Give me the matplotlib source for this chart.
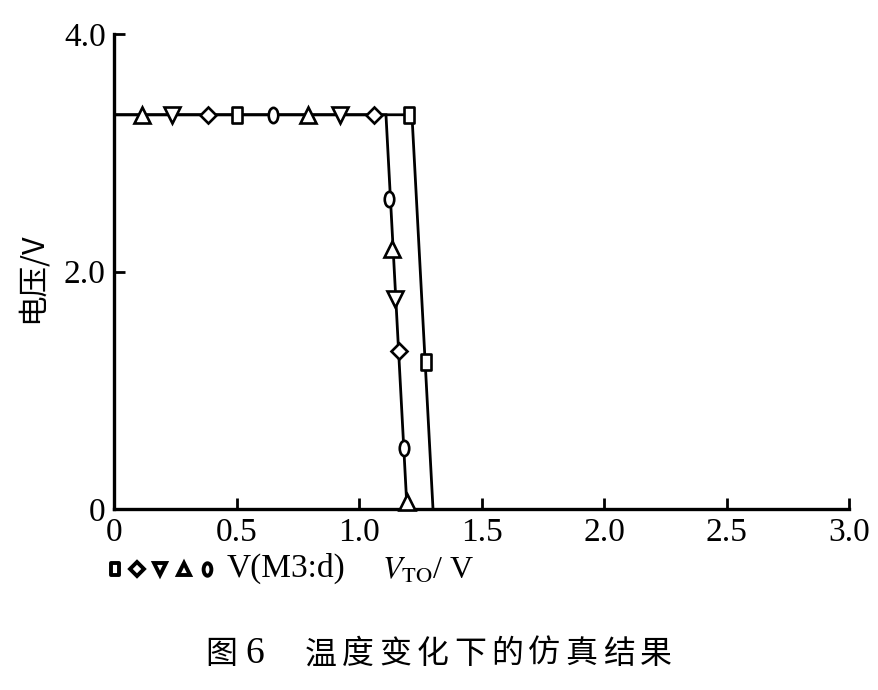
import matplotlib
matplotlib.use("Agg")
import matplotlib.pyplot as plt
from matplotlib.path import Path
from matplotlib.transforms import Affine2D

plt.rcParams['font.family'] = ['Liberation Serif', 'Noto Sans CJK SC']
plt.rcParams['mathtext.fontset'] = 'stix'

# curve outlines (V_TO vs V(M3:d)), two distinct transitions
left_x = [0, 0, 1.11, 1.196]
left_y = [0, 3.32, 3.32, 0]
right_x = [0, 0, 1.216, 1.302]
right_y = [0, 3.32, 3.32, 0]

# marker positions
sq_x = [0.50, 1.204, 1.273]
sq_y = [3.32, 3.32, 1.24]
dia_x = [0.384, 1.061, 1.163]
dia_y = [3.32, 3.32, 1.33]
dn_x = [0.235, 0.922, 1.147]
dn_y = [3.32, 3.32, 1.77]
up_x = [0.113, 0.792, 1.135, 1.196]
up_y = [3.32, 3.32, 2.19, 0.06]
ci_x = [0.649, 1.122, 1.184]
ci_y = [3.32, 2.61, 0.51]

xticks = [0, 0.5, 1.0, 1.5, 2.0, 2.5, 3.0]
xticklabels = ['0', '0.5', '1.0', '1.5', '2.0', '2.5', '3.0']
yticks = [0, 2.0, 4.0]
yticklabels = ['0', '2.0', '4.0']

caption_head = ['图', '6']
caption_body = '温度变化下的仿真结果'

# tall oval / narrow box markers like the scan
oval = Affine2D().scale(0.62, 1.0).transform_path(Path.unit_circle())
box = Path([(-0.35, -0.5), (0.35, -0.5), (0.35, 0.5), (-0.35, 0.5), (-0.35, -0.5)],
           [Path.MOVETO, Path.LINETO, Path.LINETO, Path.LINETO, Path.CLOSEPOLY])

fig = plt.figure(figsize=(8.79, 6.9), dpi=100)
ax = fig.add_axes([0.1297, 0.2623, 0.8362, 0.6884])

lw = 2.0
ax.plot(left_x, left_y, color='black', lw=lw, solid_joinstyle='miter', zorder=2)
ax.plot(right_x, right_y, color='black', lw=lw, solid_joinstyle='miter', zorder=2)

mk = dict(color='black', mfc='white', mec='black', mew=1.9, ls='none', zorder=3, clip_on=False)
ax.plot(sq_x, sq_y, marker=box, ms=11, **mk)
ax.plot(dia_x, dia_y, marker='D', ms=8.5, **mk)
ax.plot(dn_x, dn_y, marker='v', ms=11, **mk)
ax.plot(up_x, up_y, marker='^', ms=11, **mk)
ax.plot(ci_x, ci_y, marker=oval, ms=11, **mk)

ax.set_xlim(0, 3.0)
ax.set_ylim(0, 4.0)
ax.set_xticks(xticks)
ax.set_xticklabels(xticklabels)
ax.set_yticks(yticks)
ax.set_yticklabels(yticklabels)
ax.tick_params(direction='in', length=8, width=2, labelsize=24, pad=6)
for s in ['top', 'right']:
    ax.spines[s].set_visible(False)
for s in ['left', 'bottom']:
    ax.spines[s].set_linewidth(2.4)

fig.text(0.036, 0.598, '电压/V', fontsize=22, rotation=90, ha='center', va='center',
         family=['Noto Sans CJK SC', 'DejaVu Sans'], fontweight='medium')

# legend row below tick labels
leg_marks = [box, 'D', 'v', '^', oval]
leg_sizes = [9, 7, 9, 9, 9]
leg_x = [0.131, 0.156, 0.182, 0.209, 0.236]
for m, s, xx in zip(leg_marks, leg_sizes, leg_x):
    fig.lines.append(plt.Line2D([xx], [0.176], marker=m, ms=s, mfc='white',
                                mec='black', mew=2.8, ls='none',
                                transform=fig.transFigure))
fig.text(0.258, 0.176, 'V(M3:d)', fontsize=24, va='center', ha='left')
fig.text(0.435, 0.172, r'$V_{\rm TO}$/ V', fontsize=23, va='center', ha='left')

# caption, spaced out like the printed figure title
cap_font = dict(fontsize=23, family=['Noto Sans CJK SC', 'DejaVu Sans'],
                ha='center', va='center')
fig.text(221 / 879, 0.052, caption_head[0], **cap_font)
fig.text(255 / 879, 0.052, caption_head[1], fontsize=27, ha='center', va='center')
for i, ch in enumerate(caption_body):
    fig.text((321 + i * 37.2) / 879, 0.052, ch, **cap_font)

fig.savefig('out.png', dpi=100, facecolor='white')
